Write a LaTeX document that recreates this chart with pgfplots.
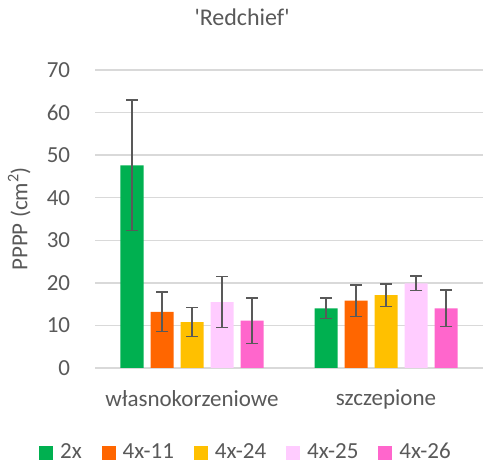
\documentclass[border=0pt]{standalone}
\usepackage{pgfplots}
\pgfplotsset{compat=1.18}
\usepackage{fontspec}
\setmainfont{Carlito}
\definecolor{txt}{HTML}{595959}
\definecolor{gridc}{HTML}{D9D9D9}
\definecolor{cA}{HTML}{00B050}
\definecolor{cB}{HTML}{FF6600}
\definecolor{cC}{HTML}{FFC000}
\definecolor{cD}{HTML}{FFCCFF}
\definecolor{cE}{HTML}{FF66CC}
\begin{document}
\fontsize{23bp}{27bp}\selectfont
\begin{tikzpicture}
\path[use as bounding box] (0,0) rectangle (483bp,463bp);
\begin{axis}[
  at={(95bp,95bp)}, anchor=south west,
  scale only axis, width=388bp, height=298bp,
  ymin=0, ymax=70, ytick={0,10,...,70},
  xmin=-0.5, xmax=1.5, xtick={0,1},
  xticklabels={własnokorzeniowe, szczepione},
  axis line style={draw=none},
  xtick style={draw=none}, ytick style={draw=none},
  ymajorgrids=true, xmajorgrids=false, major grid style={gridc, line width=1.5bp},
  /pgf/number format/assume math mode=true,
  tick label style={font=\fontsize{23bp}{27bp}\selectfont, text=txt},
  yticklabel style={xshift=-17bp},
  xticklabel style={yshift=-10bp},
  ylabel={PPPP (cm\textsuperscript{2})},
  ylabel style={font=\fontsize{23bp}{27bp}\selectfont, text=txt, at={(axis description cs:-0.195,0.5)}, anchor=center},
  title={\textquotesingle Redchief\textquotesingle},
  title style={font=\fontsize{24bp}{28bp}\selectfont, text=txt, at={(axis description cs:0.379,1.156)}, anchor=center},
  ybar=7bp, bar width=23bp,
  error bars/y dir=both, error bars/y explicit,
  error bars/error bar style={line width=1.5bp, color=txt},
  error bars/error mark options={rotate=90, mark size=6bp, line width=1.5bp, color=txt},
  legend style={at={(axis description cs:0.389,-0.284)}, anchor=center, draw=none, fill=none,
    legend columns=-1, font=\fontsize{23bp}{27bp}\selectfont, text=txt,
    /tikz/every odd column/.append style={column sep=5bp},
    /tikz/every even column/.append style={column sep=18bp}},
  legend image code/.code={\fill[#1] (0bp,-7bp) rectangle (14bp,7bp);},
]
\addplot[fill=cA, draw=none] coordinates {(0,47.6) +- (0,15.3) (1,14.0) +- (0,2.4)};
\addplot[fill=cB, draw=none] coordinates {(0,13.2) +- (0,4.6) (1,15.8) +- (0,3.7)};
\addplot[fill=cC, draw=none] coordinates {(0,10.8) +- (0,3.4) (1,17.1) +- (0,2.6)};
\addplot[fill=cD, draw=none] coordinates {(0,15.5) +- (0,6.0) (1,19.9) +- (0,1.7)};
\addplot[fill=cE, draw=none] coordinates {(0,11.1) +- (0,5.4) (1,14.0) +- (0,4.3)};
\legend{2x, 4x-11, 4x-24, 4x-25, 4x-26}
\end{axis}
\end{tikzpicture}
\end{document}
